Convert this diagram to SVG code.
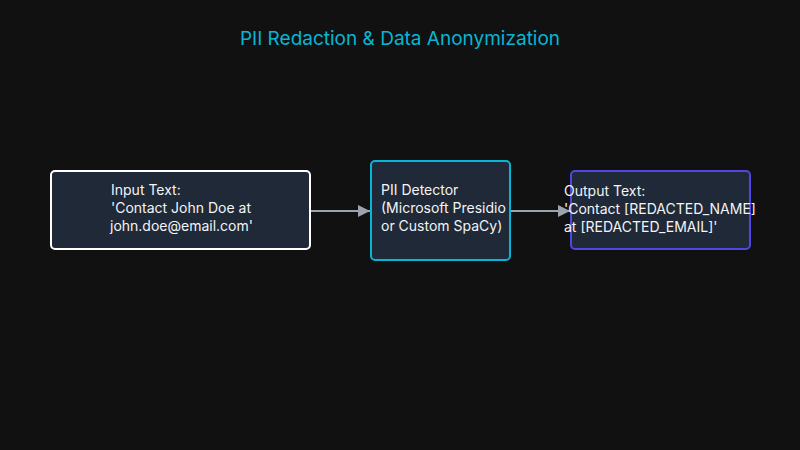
<svg xmlns="http://www.w3.org/2000/svg" width="800" height="450" viewBox="0 0 800 450">
<style>
.box{fill:#1f2937;stroke-width:2}
.t{font-family:Inter,"Liberation Sans",sans-serif;font-size:14px;fill:#f3f4f6}
.c{stroke:#9ca3af;stroke-width:2;fill:none}
</style>
<defs>
<marker id="ah" markerWidth="12" markerHeight="12" refX="12" refY="6" orient="auto" markerUnits="userSpaceOnUse">
<path d="M0,0 L12,6 L0,12 Z" fill="#9ca3af"/>
</marker>
</defs>
<rect width="800" height="450" fill="#111111"/>
<text x="400" y="45" text-anchor="middle" font-family="Inter,'Liberation Sans',sans-serif" font-size="19" fill="#06b6d4">PII Redaction &amp; Data Anonymization</text>
<g id="connectors">
<line class="c" x1="311" y1="211" x2="370" y2="211" marker-end="url(#ah)"/>
<line class="c" x1="511" y1="211" x2="570" y2="211" marker-end="url(#ah)"/>
</g>
<g id="input">
<rect class="box" x="51" y="171" width="259" height="78" rx="4" stroke="#ffffff"/>
<text class="t" x="111" y="195">Input Text:</text>
<text class="t" x="111" y="213">'Contact John Doe at</text>
<text class="t" x="110" y="231">john.doe@email.com'</text>
</g>
<g id="detector">
<rect class="box" x="371" y="161" width="139" height="99" rx="4" stroke="#06b6d4"/>
<text class="t" x="381" y="195">PII Detector</text>
<text class="t" x="381" y="213">(Microsoft Presidio</text>
<text class="t" x="381" y="231">or Custom SpaCy)</text>
</g>
<g id="output">
<rect class="box" x="571" y="171" width="179" height="78" rx="4" stroke="#4f46e5"/>
<text class="t" x="564" y="196">Output Text:</text>
<text class="t" x="564" y="214">'Contact [REDACTED_NAME]</text>
<text class="t" x="564" y="232">at [REDACTED_EMAIL]'</text>
</g>
</svg>
